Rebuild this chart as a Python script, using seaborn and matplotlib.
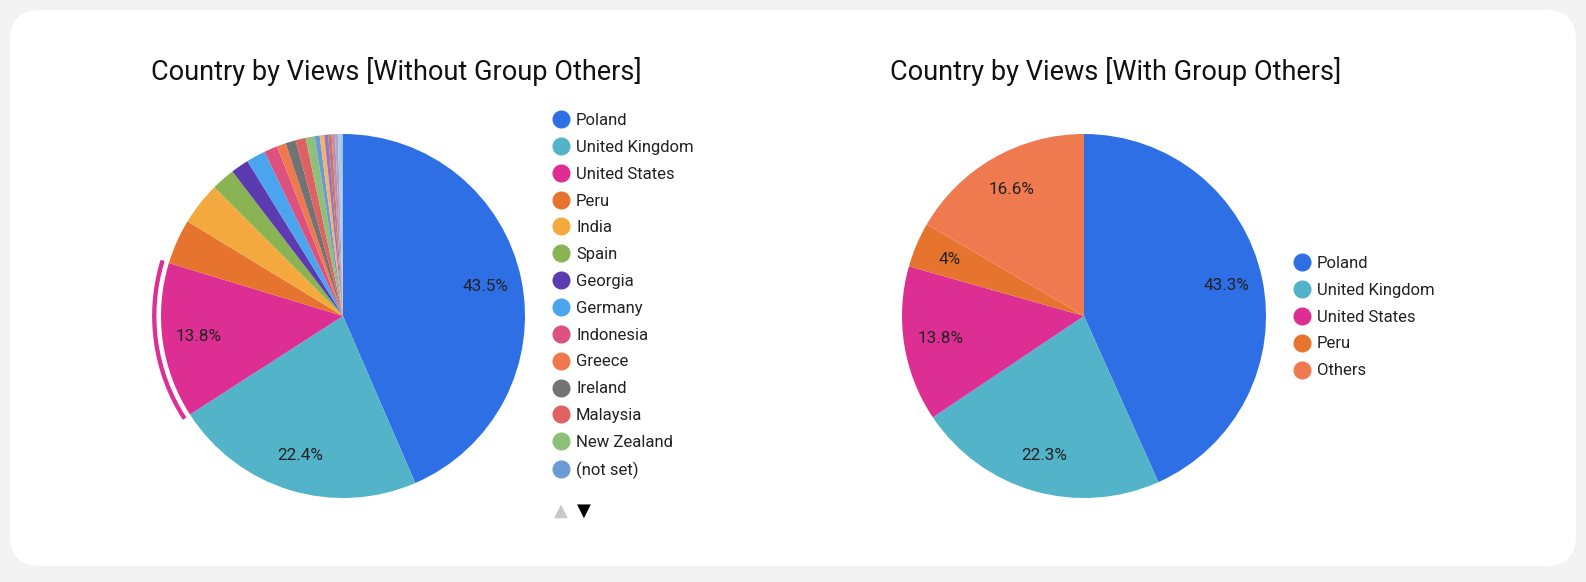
import numpy as np
import matplotlib
matplotlib.use('Agg')
import seaborn as sns
from matplotlib import pyplot as plt
from matplotlib.patches import FancyBboxPatch, Wedge
from matplotlib.lines import Line2D

# left chart: every country on its own
countries_all = ['Poland', 'United Kingdom', 'United States', 'Peru', 'India',
                 'Spain', 'Georgia', 'Germany', 'Indonesia', 'Greece',
                 'Ireland', 'Malaysia', 'New Zealand', '(not set)',
                 'France', 'Italy', 'Netherlands', 'Canada', 'Sweden',
                 'Brazil', 'Australia']
share_all = [43.5, 22.4, 13.8, 4.0, 3.8, 2.1, 1.6, 1.7, 1.2, 0.8, 0.9, 0.9,
             0.8, 0.45, 0.4, 0.35, 0.3, 0.3, 0.25, 0.25, 0.2]
colors_all = ['#2f6fe6', '#52b3c9', '#dd2f93', '#e6742e', '#f3a93d',
              '#8ab354', '#5c3bb0', '#4aa5ee', '#dc517e', '#ef784f',
              '#737373', '#df6262', '#8fc07a', '#6b9bd5',
              '#f5b26b', '#9a72c4', '#c27a5e', '#c98ab8', '#a9a9b9',
              '#a9c9ef', '#9ec3f0']
n_legend_left = 14

# right chart: top 4 + others
countries_grp = ['Poland', 'United Kingdom', 'United States', 'Peru', 'Others']
share_grp = [43.3, 22.3, 13.8, 4.0, 16.6]
colors_grp = ['#2f6fe6', '#52b3c9', '#dd2f93', '#e6742e', '#ef7a50']

TITLE_L = 'Country by Views [Without Group Others]'
TITLE_R = 'Country by Views [With Group Others]'

sns.set_theme(style='white')
plt.rcParams['font.family'] = ['Roboto', 'DejaVu Sans']

W, H = 1586, 582
fig = plt.figure(figsize=(W / 100, H / 100), dpi=100, facecolor='#f3f3f3')

# white card with rounded corners
bg = fig.add_axes([0, 0, 1, 1], zorder=-1)
bg.set_xlim(0, W)
bg.set_ylim(H, 0)
bg.axis('off')
bg.add_patch(FancyBboxPatch((10, 10), W - 20, H - 26,
                            boxstyle='round,pad=0,rounding_size=30',
                            fc='white', ec='none'))


def fmt_pct(limit):
    def f(p):
        if p < limit:
            return ''
        s = f'{p:.1f}'
        if s.endswith('.0'):
            s = s[:-2]
        return s + '%'
    return f


def pie_axes(cx, cy, r):
    return fig.add_axes([(cx - r) / W, (H - cy - r) / H, 2 * r / W, 2 * r / H])


R = 182
axl = pie_axes(343, 316, R)
axl.pie(share_all, colors=sns.color_palette(colors_all), startangle=90,
        counterclock=False, autopct=fmt_pct(10), pctdistance=0.8,
        wedgeprops=dict(linewidth=0),
        textprops=dict(fontsize=12.3, color='#222222'))
axl.set_xlim(-1, 1)
axl.set_ylim(-1, 1)

# highlight arc around the hovered slice (United States)
cum = np.cumsum([0] + share_all) / sum(share_all)
i_us = countries_all.index('United States')
t2 = 90 - 360 * cum[i_us]
t1 = 90 - 360 * cum[i_us + 1]
axl.add_patch(Wedge((0, 0), 1.045, t1, t2, width=0.016,
                    color=colors_all[i_us], clip_on=False))

axr = pie_axes(1084, 316, R)
axr.pie(share_grp, colors=sns.color_palette(colors_grp), startangle=90,
        counterclock=False, autopct=fmt_pct(0), pctdistance=0.8,
        wedgeprops=dict(linewidth=0),
        textprops=dict(fontsize=12.3, color='#222222'))
axr.set_xlim(-1, 1)
axr.set_ylim(-1, 1)

fig.text(396 / W, 1 - 72 / H, TITLE_L, ha='center', va='center',
         fontsize=19.5, color='#111111')
fig.text(1116 / W, 1 - 72 / H, TITLE_R, ha='center', va='center',
         fontsize=19.5, color='#111111')


def legend(names, cols, x, y):
    hs = [Line2D([], [], marker='o', ls='none', markersize=12,
                 markerfacecolor=c, markeredgecolor=c) for c in cols]
    fig.legend(hs, names, loc='upper left', bbox_to_anchor=(x / W, 1 - y / H),
               frameon=False, fontsize=12, handletextpad=0.3,
               labelspacing=0.71, borderaxespad=0, borderpad=0,
               handlelength=1.2, labelcolor='#222222')


legend(countries_all[:n_legend_left], colors_all[:n_legend_left], 551, 113)
legend(countries_grp, colors_grp, 1292, 256)

# legend paging arrows
fig.text(561 / W, 1 - 511 / H, '\u25b2', ha='center', va='center',
         fontsize=13, color='#c8c8c8', family='DejaVu Sans')
fig.text(584 / W, 1 - 511 / H, '\u25bc', ha='center', va='center',
         fontsize=13, color='#000000', family='DejaVu Sans')

fig.savefig('out.png', dpi=100, facecolor=fig.get_facecolor())
plt.close()
